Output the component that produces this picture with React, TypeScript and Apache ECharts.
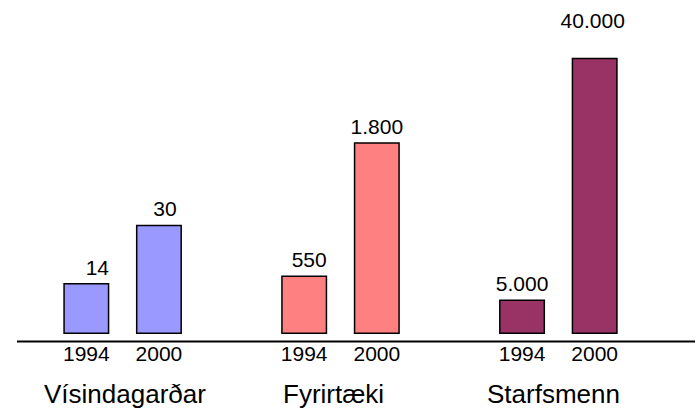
import React, { useEffect, useRef } from "react";
import * as echarts from "echarts";

const years = ["1994", "2000"];
const groupNames = ["Vísindagarðar", "Fyrirtæki", "Starfsmenn"];
const visindagardar = [14, 30];
const fyrirtaeki = [550, 1800];
const starfsmenn = [5000, 40000];
const groupValues = [visindagardar, fyrirtaeki, starfsmenn];

const colors = ["#9999FF", "#FF8080", "#993366"];
const axisMax = [89, 3040, 46900];
const labelOffsets = [
  [[11, 0], [6, 0]],
  [[5, 0], [0, 0]],
  [[0, 0], [-2, -21]],
];
const nameX = [44, 283, 487];
const FONT = "Liberation Sans, Arial, sans-serif";

const fmt = (v: number) => String(v).replace(/\B(?=(\d{3})+(?!\d))/g, ".");

export default function App() {
  const ref = useRef<HTMLDivElement>(null);
  useEffect(() => {
    if (!ref.current) return;
    document.body.style.margin = "0";
    const chart = echarts.init(ref.current, undefined, { renderer: "svg" });
    const categories: string[] = [];
    groupValues.forEach((_, gi) => {
      years.forEach((y) => categories.push(y));
      if (gi < groupValues.length - 1) categories.push("");
    });
    const series = groupValues.map((vals, gi) => {
      const data: any[] = categories.map(() => "-");
      vals.forEach((v, yi) => {
        data[gi * 3 + yi] = {
          value: v,
          label: { offset: labelOffsets[gi][yi] },
        };
      });
      return {
        type: "bar",
        yAxisIndex: gi,
        barWidth: 46,
        barGap: "-100%",
        data,
        itemStyle: { color: colors[gi], borderColor: "#000", borderWidth: 1.5 },
        label: {
          show: true,
          position: "top",
          distance: 5.5,
          fontSize: 21,
          color: "#000",
          fontFamily: FONT,
          formatter: (p: any) => fmt(p.value),
        },
      };
    });
    chart.setOption({
      animation: false,
      backgroundColor: "#fff",
      grid: { left: 50, right: 67, top: 10, bottom: 76 },
      xAxis: {
        type: "category",
        data: categories,
        axisLine: { show: false },
        axisTick: { show: false },
        axisLabel: { fontSize: 21, color: "#000", margin: 9, fontFamily: FONT, interval: 0 },
      },
      yAxis: axisMax.map((m) => ({ type: "value", min: 0, max: m, show: false, splitLine: { show: false } })),
      series,
      graphic: [
        { type: "line", shape: { x1: 17, y1: 341.5, x2: 695, y2: 341.5 }, style: { stroke: "#000", lineWidth: 2 } },
        ...groupNames.map((n, i) => ({
          type: "text",
          x: nameX[i],
          y: 394,
          style: { text: n, fontSize: 26, fill: "#000", fontFamily: FONT, verticalAlign: "middle" },
        })),
      ],
    });
    return () => chart.dispose();
  }, []);
  return <div ref={ref} style={{ width: 698, height: 410 }} />;
}
